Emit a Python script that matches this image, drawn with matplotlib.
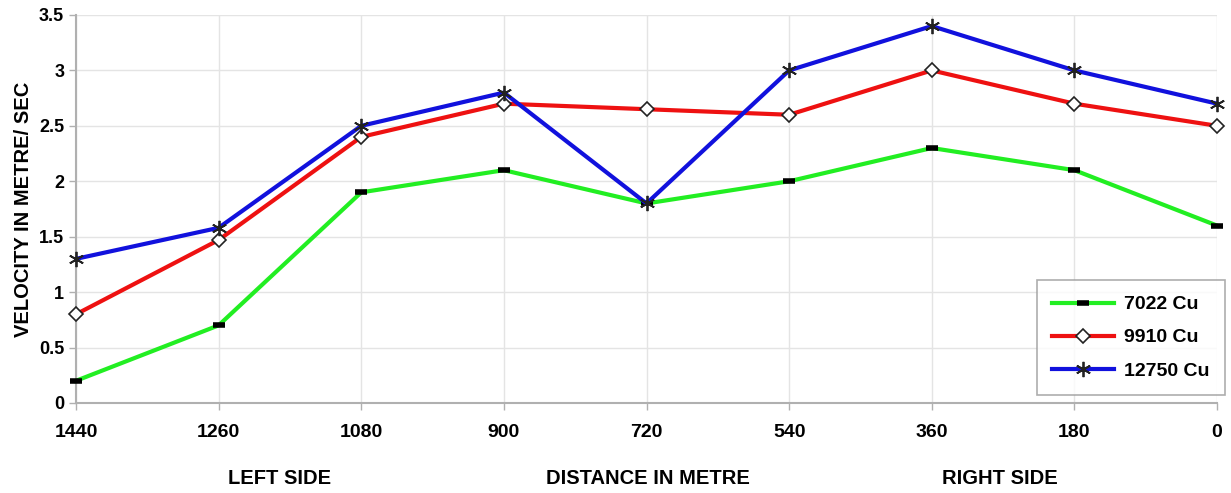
import matplotlib
matplotlib.use('Agg')
import matplotlib.pyplot as plt
import numpy as np

# Données
distances = ['1440', '1260', '1080', '900', '720', '540', '360', '180', '0']
v_7022 = [0.2, 0.7, 1.9, 2.1, 1.8, 2.0, 2.3, 2.1, 1.6]
v_9910 = [0.8, 1.47, 2.4, 2.7, 2.65, 2.6, 3.0, 2.7, 2.5]
v_12750 = [1.3, 1.58, 2.5, 2.8, 1.8, 3.0, 3.4, 3.0, 2.7]

plt.rcParams['font.family'] = ['Liberation Sans', 'DejaVu Sans']
plt.rcParams['font.weight'] = 'bold'

fig = plt.figure(figsize=(12.31, 4.93), dpi=100)
ax = fig.add_axes([0.0617, 0.1826, 0.927, 0.787])

x = np.arange(len(distances))

ax.plot(x, v_7022, color='#22ee22', lw=3, marker='_', ms=9, mew=4,
        mec='black', label='7022 Cu', clip_on=False, zorder=3)
ax.plot(x, v_9910, color='#ee1111', lw=3, marker='D', ms=7, mew=1.2,
        mfc='white', mec='#222222', label='9910 Cu', clip_on=False, zorder=4)
ax.plot(x, v_12750, color='#1111dd', lw=3, marker=(6, 2, 0), ms=11, mew=1.3,
        mec='#222222', label='12750 Cu', clip_on=False, zorder=5)

ax.set_xlim(0, 8)
ax.set_ylim(0, 3.5)
ax.set_xticks(x)
ax.set_xticklabels(distances)
ax.set_yticks(np.arange(0, 3.51, 0.5))
ax.set_yticklabels(['0', '0.5', '1', '1.5', '2', '2.5', '3', '3.5'])

ax.grid(True, color='#e4e4e4', lw=1)
ax.set_axisbelow(True)
for s in ['top', 'right']:
    ax.spines[s].set_visible(False)
for s in ['left', 'bottom']:
    ax.spines[s].set_color('#b0b0b0')
    ax.spines[s].set_linewidth(1.5)
ax.tick_params(colors='#b0b0b0', labelcolor='black', length=5, width=1)
ax.tick_params(axis='x', pad=10, labelsize=14)
ax.tick_params(axis='y', labelsize=13)

ax.set_ylabel('VELOCITY IN METRE/ SEC', fontsize=14.5, fontweight='bold', labelpad=4)

# Libellés sous l'axe
fig.text(280 / 1231, 1 - 478 / 493, 'LEFT SIDE', ha='center', va='center', fontsize=14.5, fontweight='bold')
fig.text(648 / 1231, 1 - 478 / 493, 'DISTANCE IN METRE', ha='center', va='center', fontsize=14.5, fontweight='bold')
fig.text(1000 / 1231, 1 - 478 / 493, 'RIGHT SIDE', ha='center', va='center', fontsize=14.5, fontweight='bold')

leg = ax.legend(loc='lower right', bbox_to_anchor=(1.007, 0.02), borderaxespad=0,
                fontsize=14, frameon=True, fancybox=False, edgecolor='#999999',
                handlelength=3.2, handletextpad=0.5, labelspacing=0.8, borderpad=0.8)
leg.get_frame().set_linewidth(1.2)

fig.savefig('out.png', dpi=100)
